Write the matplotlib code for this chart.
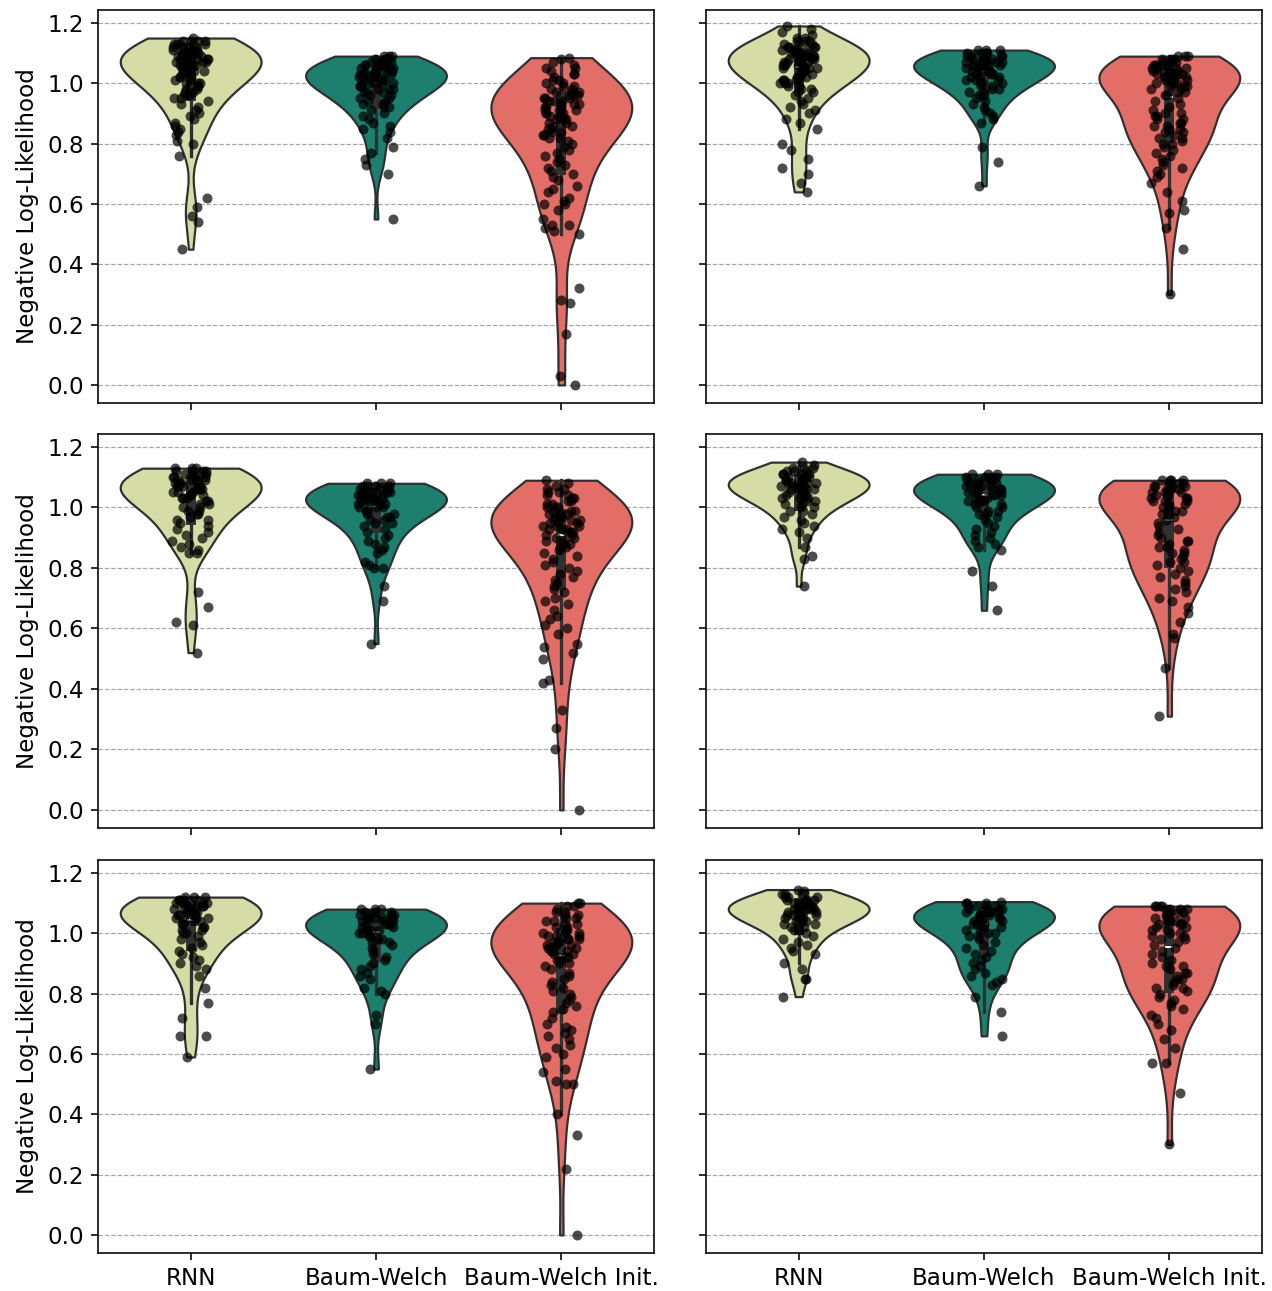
import numpy as np
import pandas as pd
import matplotlib
matplotlib.use("Agg")
import matplotlib.pyplot as plt
import seaborn as sns

plt.rcParams["font.size"] = 11.5

categories = ["RNN", "Baum-Welch", "Baum-Welch Init."]
colors = ["#d5dca5", "#1d7f6e", "#e36d67"]
ylabel = "Negative Log-Likelihood"

# ---- row 1, left ----
r1l_rnn = [1.15,1.14,1.14,1.14,1.14,1.13,1.13,1.13,1.13,1.12,1.12,1.12,1.12,1.12,1.11,1.11,1.11,1.11,1.10,1.10,1.10,1.10,1.10,1.09,1.09,1.09,1.09,1.08,1.08,1.08,1.08,1.08,1.07,1.07,1.07,1.07,1.06,1.06,1.06,1.06,1.05,1.05,1.05,1.05,1.04,1.04,1.04,1.03,1.03,1.03,1.02,1.02,1.02,1.01,1.01,1.00,1.00,1.00,0.99,0.99,0.98,0.98,0.97,0.97,0.96,0.96,0.95,0.95,0.94,0.93,0.92,0.91,0.90,0.89,0.88,0.87,0.86,0.85,0.84,0.83,0.81,0.80,0.76,0.62,0.59,0.56,0.54,0.45]
r1l_bw = [1.09,1.09,1.09,1.08,1.08,1.08,1.07,1.07,1.07,1.07,1.06,1.06,1.06,1.06,1.05,1.05,1.05,1.05,1.05,1.04,1.04,1.04,1.04,1.03,1.03,1.03,1.03,1.03,1.02,1.02,1.02,1.02,1.01,1.01,1.01,1.01,1.00,1.00,1.00,1.00,0.99,0.99,0.99,0.98,0.98,0.98,0.97,0.97,0.97,0.96,0.96,0.95,0.95,0.94,0.94,0.93,0.93,0.92,0.92,0.91,0.90,0.89,0.88,0.87,0.86,0.85,0.84,0.82,0.79,0.77,0.75,0.73,0.70,0.55]
r1l_bwi = [1.085,1.08,1.07,1.06,1.05,1.05,1.04,1.03,1.03,1.02,1.01,1.01,1.00,1.00,0.99,0.99,0.98,0.98,0.97,0.97,0.97,0.96,0.96,0.96,0.95,0.95,0.95,0.94,0.94,0.94,0.93,0.93,0.93,0.92,0.92,0.92,0.91,0.91,0.91,0.90,0.90,0.90,0.89,0.89,0.89,0.88,0.88,0.88,0.87,0.87,0.86,0.86,0.85,0.85,0.84,0.84,0.83,0.83,0.82,0.82,0.81,0.80,0.79,0.78,0.77,0.76,0.75,0.74,0.73,0.72,0.71,0.70,0.69,0.68,0.66,0.65,0.64,0.62,0.61,0.60,0.60,0.58,0.55,0.53,0.53,0.52,0.51,0.50,0.32,0.28,0.27,0.17,0.03,0.0]

# ---- row 1, right ----
r1r_rnn = [1.19,1.18,1.17,1.16,1.15,1.15,1.14,1.14,1.14,1.13,1.13,1.13,1.12,1.12,1.12,1.12,1.11,1.11,1.11,1.11,1.10,1.10,1.10,1.10,1.10,1.09,1.09,1.09,1.09,1.08,1.08,1.08,1.08,1.08,1.07,1.07,1.07,1.07,1.06,1.06,1.06,1.06,1.05,1.05,1.05,1.05,1.04,1.04,1.04,1.03,1.03,1.03,1.02,1.02,1.02,1.01,1.01,1.01,1.00,1.00,1.00,0.99,0.99,0.98,0.98,0.97,0.97,0.96,0.95,0.94,0.93,0.92,0.91,0.90,0.88,0.87,0.85,0.80,0.78,0.75,0.72,0.70,0.67,0.64]
r1r_bw = [1.11,1.11,1.11,1.10,1.10,1.10,1.10,1.09,1.09,1.09,1.09,1.09,1.08,1.08,1.08,1.08,1.08,1.07,1.07,1.07,1.07,1.07,1.06,1.06,1.06,1.06,1.06,1.05,1.05,1.05,1.05,1.04,1.04,1.04,1.04,1.03,1.03,1.03,1.03,1.02,1.02,1.02,1.01,1.01,1.01,1.00,1.00,1.00,0.99,0.99,0.98,0.98,0.97,0.97,0.96,0.96,0.95,0.94,0.93,0.92,0.91,0.90,0.89,0.88,0.87,0.79,0.74,0.66]
r1r_bwi = [1.09,1.09,1.09,1.08,1.08,1.08,1.07,1.07,1.07,1.06,1.06,1.06,1.06,1.05,1.05,1.05,1.05,1.04,1.04,1.04,1.04,1.03,1.03,1.03,1.03,1.02,1.02,1.02,1.02,1.01,1.01,1.01,1.00,1.00,1.00,0.99,0.99,0.99,0.98,0.98,0.97,0.97,0.96,0.96,0.95,0.94,0.93,0.92,0.91,0.90,0.90,0.89,0.89,0.88,0.88,0.87,0.87,0.86,0.86,0.85,0.85,0.84,0.84,0.83,0.82,0.82,0.81,0.80,0.80,0.79,0.78,0.77,0.76,0.75,0.74,0.73,0.72,0.71,0.70,0.69,0.67,0.64,0.61,0.58,0.57,0.52,0.45,0.30]

# ---- row 2, left ----
r2l_rnn = [1.13,1.13,1.13,1.12,1.12,1.12,1.12,1.11,1.11,1.11,1.11,1.10,1.10,1.10,1.10,1.09,1.09,1.09,1.09,1.08,1.08,1.08,1.08,1.07,1.07,1.07,1.07,1.06,1.06,1.06,1.06,1.05,1.05,1.05,1.04,1.04,1.04,1.03,1.03,1.03,1.02,1.02,1.01,1.01,1.00,1.00,0.99,0.99,0.98,0.98,0.97,0.96,0.96,0.95,0.94,0.93,0.92,0.91,0.90,0.89,0.88,0.87,0.86,0.85,0.85,0.72,0.67,0.62,0.61,0.52]
r2l_bw = [1.08,1.08,1.08,1.07,1.07,1.07,1.07,1.06,1.06,1.06,1.06,1.05,1.05,1.05,1.05,1.05,1.04,1.04,1.04,1.04,1.03,1.03,1.03,1.03,1.02,1.02,1.02,1.02,1.01,1.01,1.01,1.00,1.00,1.00,0.99,0.99,0.99,0.98,0.98,0.97,0.97,0.96,0.96,0.95,0.95,0.94,0.93,0.92,0.91,0.90,0.89,0.88,0.87,0.86,0.85,0.82,0.81,0.80,0.80,0.74,0.69,0.55]
r2l_bwi = [1.09,1.08,1.07,1.06,1.06,1.05,1.05,1.04,1.04,1.03,1.03,1.02,1.02,1.01,1.01,1.00,1.00,1.00,0.99,0.99,0.99,0.98,0.98,0.98,0.97,0.97,0.97,0.96,0.96,0.96,0.95,0.95,0.95,0.94,0.94,0.94,0.93,0.93,0.93,0.92,0.92,0.92,0.91,0.91,0.90,0.90,0.89,0.89,0.88,0.88,0.87,0.87,0.86,0.85,0.84,0.83,0.82,0.81,0.80,0.79,0.78,0.77,0.76,0.75,0.74,0.73,0.72,0.70,0.69,0.68,0.66,0.64,0.63,0.61,0.60,0.58,0.55,0.54,0.52,0.50,0.43,0.42,0.33,0.27,0.20,0.0]

# ---- row 2, right ----
r2r_rnn = [1.15,1.14,1.13,1.13,1.13,1.12,1.12,1.12,1.11,1.11,1.11,1.11,1.10,1.10,1.10,1.10,1.09,1.09,1.09,1.09,1.08,1.08,1.08,1.08,1.08,1.07,1.07,1.07,1.07,1.06,1.06,1.06,1.06,1.05,1.05,1.05,1.05,1.04,1.04,1.04,1.03,1.03,1.03,1.02,1.02,1.01,1.01,1.00,1.00,0.99,0.99,0.98,0.97,0.96,0.95,0.94,0.93,0.92,0.90,0.87,0.84,0.83,0.74]
r2r_bw = [1.11,1.11,1.11,1.10,1.10,1.10,1.10,1.09,1.09,1.09,1.09,1.08,1.08,1.08,1.08,1.07,1.07,1.07,1.07,1.06,1.06,1.06,1.06,1.05,1.05,1.05,1.05,1.04,1.04,1.04,1.03,1.03,1.03,1.02,1.02,1.02,1.01,1.01,1.00,1.00,0.99,0.99,0.98,0.98,0.97,0.96,0.95,0.94,0.93,0.92,0.91,0.90,0.89,0.88,0.87,0.86,0.79,0.74,0.66]
r2r_bwi = [1.09,1.09,1.09,1.09,1.08,1.08,1.08,1.08,1.07,1.07,1.07,1.07,1.06,1.06,1.06,1.06,1.05,1.05,1.05,1.04,1.04,1.04,1.03,1.03,1.03,1.02,1.02,1.02,1.01,1.01,1.00,1.00,0.99,0.99,0.98,0.98,0.97,0.96,0.95,0.94,0.93,0.92,0.91,0.90,0.89,0.89,0.88,0.87,0.87,0.86,0.85,0.85,0.84,0.83,0.82,0.82,0.81,0.80,0.79,0.78,0.77,0.76,0.75,0.74,0.73,0.72,0.70,0.69,0.67,0.65,0.62,0.58,0.57,0.47,0.31]

# ---- row 3, left ----
r3l_rnn = [1.12,1.12,1.12,1.11,1.11,1.11,1.11,1.10,1.10,1.10,1.10,1.10,1.09,1.09,1.09,1.09,1.08,1.08,1.08,1.08,1.07,1.07,1.07,1.07,1.06,1.06,1.06,1.05,1.05,1.05,1.04,1.04,1.04,1.03,1.03,1.02,1.02,1.01,1.01,1.00,1.00,0.99,0.98,0.97,0.96,0.95,0.94,0.93,0.92,0.91,0.90,0.89,0.88,0.86,0.82,0.77,0.72,0.66,0.66,0.59]
r3l_bw = [1.08,1.08,1.08,1.07,1.07,1.07,1.06,1.06,1.06,1.06,1.05,1.05,1.05,1.05,1.04,1.04,1.04,1.04,1.03,1.03,1.03,1.02,1.02,1.02,1.01,1.01,1.01,1.00,1.00,1.00,0.99,0.99,0.98,0.98,0.97,0.97,0.96,0.95,0.94,0.93,0.92,0.91,0.90,0.89,0.88,0.87,0.86,0.85,0.82,0.81,0.80,0.73,0.70,0.55]
r3l_bwi = [1.10,1.10,1.09,1.09,1.08,1.07,1.07,1.06,1.06,1.05,1.05,1.04,1.04,1.03,1.03,1.02,1.02,1.01,1.01,1.00,1.00,1.00,0.99,0.99,0.99,0.98,0.98,0.98,0.97,0.97,0.97,0.96,0.96,0.96,0.95,0.95,0.95,0.94,0.94,0.94,0.93,0.93,0.92,0.92,0.91,0.91,0.90,0.90,0.89,0.88,0.87,0.86,0.85,0.84,0.83,0.82,0.81,0.80,0.79,0.78,0.77,0.76,0.75,0.74,0.72,0.70,0.69,0.68,0.67,0.66,0.65,0.63,0.62,0.60,0.59,0.55,0.54,0.51,0.50,0.50,0.40,0.33,0.22,0.0]

# ---- row 3, right ----
r3r_rnn = [1.145,1.14,1.13,1.13,1.13,1.12,1.12,1.12,1.11,1.11,1.11,1.11,1.10,1.10,1.10,1.10,1.09,1.09,1.09,1.09,1.08,1.08,1.08,1.08,1.08,1.07,1.07,1.07,1.07,1.06,1.06,1.06,1.06,1.05,1.05,1.05,1.04,1.04,1.04,1.03,1.03,1.02,1.02,1.01,1.01,1.00,0.99,0.98,0.97,0.96,0.95,0.94,0.93,0.90,0.88,0.85,0.85,0.79]
r3r_bw = [1.105,1.10,1.10,1.10,1.09,1.09,1.09,1.09,1.08,1.08,1.08,1.08,1.07,1.07,1.07,1.07,1.06,1.06,1.06,1.06,1.05,1.05,1.05,1.04,1.04,1.04,1.03,1.03,1.03,1.02,1.02,1.01,1.01,1.00,1.00,0.99,0.99,0.98,0.97,0.96,0.95,0.94,0.93,0.92,0.91,0.90,0.89,0.88,0.87,0.86,0.85,0.84,0.83,0.79,0.74,0.66]
r3r_bwi = [1.09,1.09,1.09,1.09,1.08,1.08,1.08,1.08,1.07,1.07,1.07,1.06,1.06,1.06,1.05,1.05,1.05,1.04,1.04,1.04,1.03,1.03,1.03,1.02,1.02,1.01,1.01,1.00,1.00,0.99,0.99,0.98,0.98,0.97,0.96,0.95,0.94,0.93,0.92,0.91,0.90,0.89,0.89,0.88,0.87,0.87,0.86,0.85,0.85,0.84,0.83,0.82,0.82,0.81,0.80,0.79,0.78,0.77,0.76,0.75,0.73,0.72,0.70,0.68,0.65,0.62,0.57,0.57,0.47,0.30]

panels = [
    [(r1l_rnn, r1l_bw, r1l_bwi), (r1r_rnn, r1r_bw, r1r_bwi)],
    [(r2l_rnn, r2l_bw, r2l_bwi), (r2r_rnn, r2r_bw, r2r_bwi)],
    [(r3l_rnn, r3l_bw, r3l_bwi), (r3r_rnn, r3r_bw, r3r_bwi)],
]

np.random.seed(3)  # for stripplot jitter only

W, H, DPI = 1272, 1291, 144
fig = plt.figure(figsize=(W / DPI, H / DPI), dpi=DPI)

col_x = [98, 706]
ax_w = 556
row_y = [(10, 403), (434, 828), (860, 1253)]

for r in range(3):
    for c in range(2):
        y0, y1 = row_y[r]
        ax = fig.add_axes([col_x[c] / W, (H - y1) / H, ax_w / W, (y1 - y0) / H])
        vals = panels[r][c]
        df = pd.DataFrame({
            "method": np.concatenate([[categories[i]] * len(v) for i, v in enumerate(vals)]),
            "nll": np.concatenate([np.asarray(v, float) for v in vals]),
        })
        ax.set_axisbelow(True)
        ax.yaxis.grid(True, linestyle="--", color="gray", alpha=0.7, linewidth=0.6)
        sns.violinplot(data=df, x="method", y="nll", order=categories,
                       hue="method", hue_order=categories, palette=colors,
                       legend=False, cut=0, density_norm="width", width=0.76,
                       inner="box", linewidth=1.1, linecolor="#303030",
                       saturation=1, ax=ax)
        sns.stripplot(data=df, x="method", y="nll", order=categories,
                      color="black", alpha=0.7, size=5, jitter=0.1, ax=ax)
        ax.set_xlim(-0.5, 2.5)
        ax.set_ylim(-0.06, 1.243)
        ax.set_yticks([0.0, 0.2, 0.4, 0.6, 0.8, 1.0, 1.2])
        ax.set_xlabel("")
        if c == 0:
            ax.set_ylabel(ylabel)
        else:
            ax.set_ylabel("")
            ax.tick_params(axis="y", labelleft=False)
        if r < 2:
            ax.tick_params(axis="x", labelbottom=False)

fig.savefig("out.png", dpi=DPI)
